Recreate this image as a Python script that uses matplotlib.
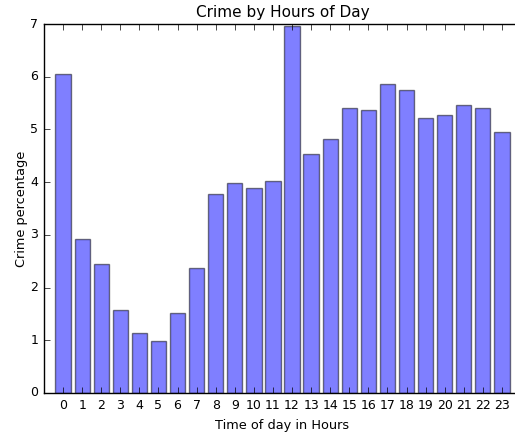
import matplotlib
matplotlib.use('Agg')
import matplotlib.pyplot as plt
import numpy as np

plt.style.use('classic')

hours = list(range(24))
crime_pct = [6.06, 2.93, 2.45, 1.58, 1.13, 0.99, 1.51, 2.38,
             3.78, 3.98, 3.88, 4.03, 6.96, 4.54, 4.82, 5.41,
             5.36, 5.86, 5.75, 5.21, 5.27, 5.47, 5.40, 4.96]

fig = plt.figure(figsize=(5.15, 4.33), dpi=100)
fig.patch.set_facecolor('white')
# axes extends a little past the right edge, like the cropped original
ax = fig.add_axes([44 / 515, 40 / 433, 477 / 515, 369 / 433])

ax.bar(hours, crime_pct, width=0.8, align='center', color='b', alpha=0.5)

ax.set_xlim(-1, 24)
ax.set_ylim(0, 7)
ax.set_xticks(hours)
ax.set_xticklabels([str(h) for h in hours])
ax.tick_params(labelsize=9)

ax.set_title('Crime by Hours of Day', fontsize=11)
ax.set_xlabel('Time of day in Hours', fontsize=9.3)
ax.set_ylabel('Crime percentage', fontsize=9.3, labelpad=2)

fig.savefig('out.png', dpi=100, facecolor='white')
